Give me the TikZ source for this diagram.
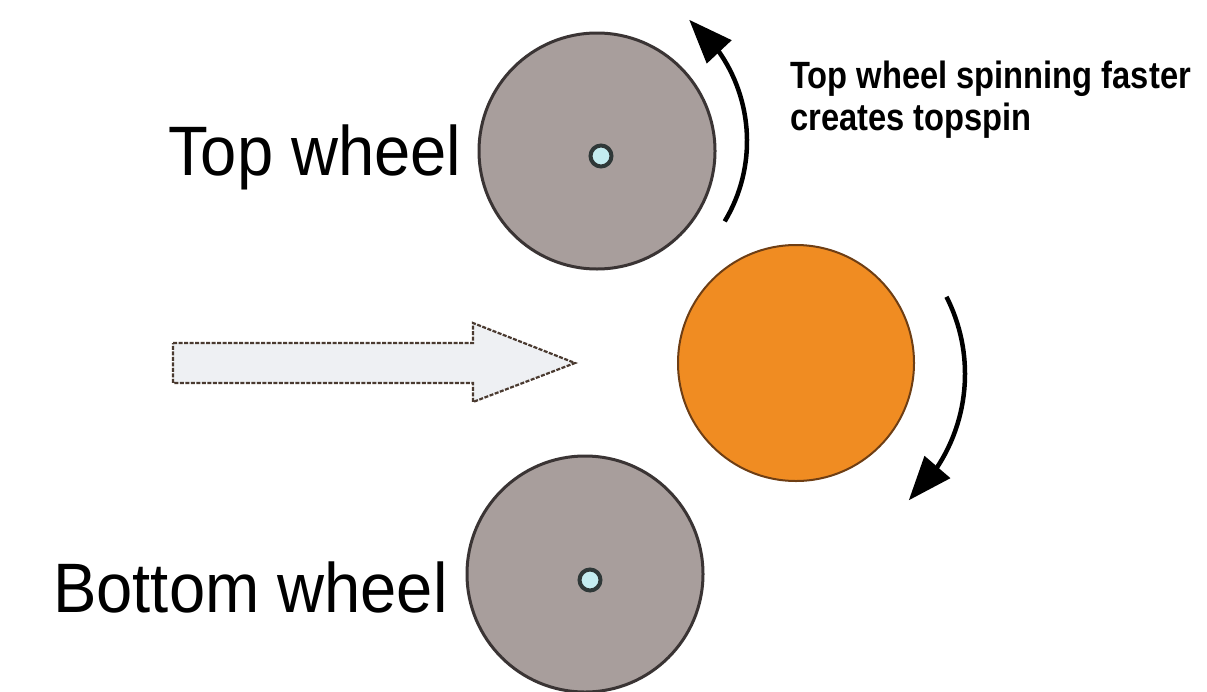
\documentclass[tikz,border=0pt]{standalone}
\usepackage{fontspec}
\setmainfont{Liberation Sans}
\newfontfamily\labfont[FakeStretch=0.93]{Liberation Sans}
\newfontfamily\notefont[FakeStretch=0.86]{Liberation Sans}
\usetikzlibrary{arrows.meta,bending}
\definecolor{wheelgray}{HTML}{A89E9C}
\definecolor{wheelline}{HTML}{3A3434}
\definecolor{ballorange}{HTML}{F08C22}
\definecolor{ballline}{HTML}{6E3E14}
\definecolor{hubring}{HTML}{2F3838}
\definecolor{hubfill}{HTML}{C4ECF0}
\definecolor{arrowfill}{HTML}{EEF0F3}
\definecolor{arrowline}{HTML}{4A3A30}
\begin{document}
\begin{tikzpicture}[x=1pt,y=-1pt,
  wheel/.style={circle,inner sep=0pt,minimum size=236pt,fill=wheelgray,draw=wheelline,line width=3pt},
  ball/.style={circle,inner sep=0pt,minimum size=236pt,fill=ballorange,draw=ballline,line width=2pt},
  hub/.style={circle,inner sep=0pt,minimum size=21pt,fill=hubfill,draw=hubring,line width=4pt},
  spin/.style={line width=4.5pt,-{Triangle[length=44pt,width=33pt]}},
  biglabel/.style={anchor=base west,inner sep=0pt,font=\labfont\fontsize{70}{84}\selectfont},
  notelabel/.style={anchor=base west,inner sep=0pt,font=\notefont\bfseries\fontsize{38}{46}\selectfont},
  blockarrow/.style={fill=arrowfill,draw=arrowline,line width=2.2pt,dash pattern=on 4pt off 1.5pt,line join=miter}
]
\useasboundingbox[fill=white] (0,0) rectangle (1207,691);

% wheels and ball
\node[wheel] (topwheel) at (597,151) {};
\node[wheel] (botwheel) at (585,574) {};
\node[ball] (ball) at (796,363) {};
\node[hub] (tophub) at (601,156) {};
\node[hub] (bothub) at (590,580) {};

% spin arrows
\coordinate (topc) at (591,141);
\coordinate (ballc) at (795,374);
\draw[spin] ([shift={(31:156)}]topc) arc[start angle=31,end angle=-51,radius=156];
\draw[spin] ([shift={(-27:170)}]ballc) arc[start angle=-27,end angle=48,radius=170];

% block arrow
\draw[blockarrow] (173,343) -- (473,343) -- (473,323) -- (575,363) -- (473,402) -- (473,383) -- (173,383) -- cycle;

% labels
\node[biglabel] (toplab) at (168,175) {Top wheel};
\node[biglabel] (botlab) at (53,612) {Bottom wheel};
\node[notelabel] (note1) at (790,88) {Top wheel spinning faster};
\node[notelabel] (note2) at (790,130) {creates topspin};
\end{tikzpicture}
\end{document}
